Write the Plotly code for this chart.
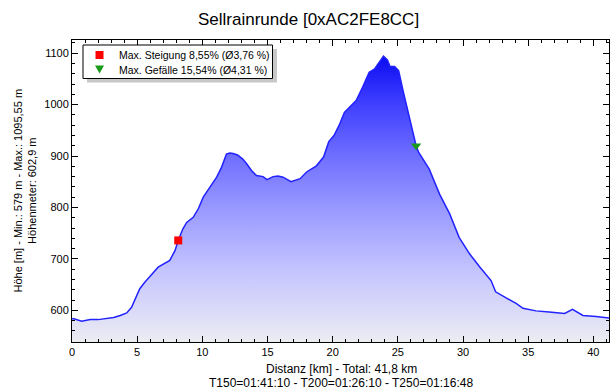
import plotly.graph_objects as go

# ---- data ----
distance_km = [0, 0.1, 0.74, 1.4, 2.0, 2.66, 3.2, 3.7, 4.2, 4.57, 4.9, 5.2, 5.6, 5.98, 6.3,
               6.61, 7.0, 7.5, 7.9, 8.15, 8.5, 8.8, 9.3, 9.7, 10.07, 10.6, 11.1, 11.47,
               11.85, 12.1, 12.36, 12.7, 13.1, 13.4, 13.77, 14.15, 14.66, 14.96, 15.43,
               15.8, 16.2, 16.8, 17.5, 18.0, 18.75, 19.3, 19.7, 20.1, 20.5, 20.9, 21.3,
               21.8, 22.3, 22.8, 23.2, 23.6, 23.9, 24.2, 24.4, 24.75, 25.06, 25.4, 25.9,
               26.3, 26.4, 26.6, 27.0, 27.4, 28.2, 28.97, 29.7, 30.5, 31.3, 32.15, 32.5,
               33.2, 34.1, 34.6, 35.6, 36.6, 37.3, 37.8, 38.4, 38.8, 39.2, 40.2, 41.1, 41.2]
elevation_m = [583, 584, 579, 582, 582, 584, 586, 590, 595, 606, 625, 642, 655, 665, 675,
               684, 690, 697, 716, 736, 758, 771, 781, 798, 820, 840, 859, 878,
               904, 906, 905, 902, 894, 885, 872, 862, 860, 854, 860,
               861, 859, 850, 856, 869, 881, 898, 928, 940, 960, 985, 995,
               1008, 1034, 1063, 1069, 1082, 1094, 1087, 1074, 1074, 1066, 1027, 975,
               930, 920, 907, 892, 875, 826, 788, 742, 710, 684, 658, 636,
               626, 613, 604, 599, 597, 595, 594, 602, 596, 590, 588, 586, 585]

climb_km, climb_elev = [8.15], [736]
descent_km, descent_elev = [26.4], [920]
legend_labels = ["Max. Steigung 8,55% (Ø3,76 %)", "Max. Gefälle 15,54% (Ø4,31 %)"]

title_text = "Sellrainrunde [0xAC2FE8CC]"
y_title = "Höhe [m] - Min.: 579 m - Max.: 1095,55 m<br>Höhenmeter: 602,9 m"
x_title_lines = ["Distanz [km] - Total: 41,8 km",
                 "T150=01:41:10 - T200=01:26:10 - T250=01:16:48"]

x_range = [0, 41.2]
y_range = [538.5, 1125.6]
y_floor = [y_range[0]] * len(distance_km)

FONT = "Liberation Sans, Arial, sans-serif"
RED, GREEN = "#ff0000", "#1a9a1a"

fig = go.Figure()
# baseline for fill
fig.add_trace(go.Scatter(x=distance_km, y=y_floor, mode="lines", line=dict(width=0),
                         showlegend=False, hoverinfo="skip"))
fig.add_trace(go.Scatter(
    x=distance_km, y=elevation_m, mode="lines",
    line=dict(color="#2222ff", width=1.5),
    fill="tonexty",
    fillgradient=dict(type="vertical", start=y_range[0], stop=1096,
                      colorscale=[[0, "#ececf2"], [0.1, "#dcdcf8"], [0.25, "#c4c4ff"],
                                  [0.45, "#9c9cff"], [0.65, "#6e6eff"], [0.85, "#3a3aff"],
                                  [1, "#0a0af0"]]),
    showlegend=False, hoverinfo="skip"))
fig.add_trace(go.Scatter(x=climb_km, y=climb_elev, mode="markers", showlegend=False,
                         marker=dict(symbol="square", color=RED, size=8, line=dict(width=0))))
fig.add_trace(go.Scatter(x=descent_km, y=descent_elev, mode="markers", showlegend=False,
                         marker=dict(symbol="triangle-down", color=GREEN, size=9,
                                     line=dict(width=0))))
# invisible copy on mirror axes so top/right ticks get drawn
fig.add_trace(go.Scatter(x=distance_km, y=elevation_m, xaxis="x2", yaxis="y2",
                         mode="lines", line=dict(width=0, color="rgba(0,0,0,0)"),
                         showlegend=False, hoverinfo="skip"))

L, R, T, B = 72, 7, 40, 50
W, H = 616, 392
pw, ph = W - L - R, H - T - B

def px(x):
    return (x - L) / pw

def py(y):
    return (H - B - y) / ph

# manual legend: shadow, box, symbols, text
fig.add_shape(type="rect", xref="paper", yref="paper",
              x0=px(87), x1=px(277), y0=py(82.5), y1=py(49),
              fillcolor="#c8c8c8", line=dict(width=0), layer="above")
fig.add_shape(type="rect", xref="paper", yref="paper",
              x0=px(83), x1=px(272.5), y0=py(78.5), y1=py(45),
              fillcolor="white", line=dict(color="black", width=1), layer="above")
fig.add_shape(type="rect", xref="paper", yref="paper",
              x0=px(95.5), x1=px(103.5), y0=py(59), y1=py(51),
              fillcolor=RED, line=dict(width=0), layer="above")
fig.add_shape(type="path", xref="paper", yref="paper",
              path=f"M {px(95)} {py(65.5)} L {px(104)} {py(65.5)} L {px(99.5)} {py(73.5)} Z",
              fillcolor=GREEN, line=dict(width=0), layer="above")
for i, lab in enumerate(legend_labels):
    fig.add_annotation(text=lab, xref="paper", yref="paper", x=px(117), y=py(55.5 + 14.5 * i),
                       xanchor="left", yanchor="middle", showarrow=False,
                       font=dict(family=FONT, size=10.5, color="black"))

# x-axis title lines
for i, line in enumerate(x_title_lines):
    fig.add_annotation(text=line, xref="paper", yref="paper", x=px(341), y=py(369 + 14 * i),
                       xanchor="center", yanchor="middle", showarrow=False,
                       font=dict(family=FONT, size=12, color="black"))
# y-axis title (two lines, rotated)
fig.add_annotation(text=y_title, xref="paper", yref="paper", x=px(24.5), y=py(191),
                   xanchor="center", yanchor="middle", textangle=-90, showarrow=False,
                   font=dict(family=FONT, size=11, color="black"))

axis_common = dict(showline=True, linecolor="black", linewidth=1,
                   ticks="inside", ticklen=6, tickcolor="black", showgrid=False,
                   zeroline=False, automargin=False,
                   tickfont=dict(family=FONT, size=11, color="black"))

fig.update_layout(
    width=W, height=H,
    margin=dict(l=L, r=R, t=T, b=B, autoexpand=False),
    paper_bgcolor="white", plot_bgcolor="white",
    title=dict(text=title_text, x=px(341), xanchor="center", y=1 - 19 / H, yanchor="middle",
               font=dict(family=FONT, size=17, color="black"), automargin=False),
    xaxis=dict(range=x_range, dtick=5, tick0=0,
               minor=dict(dtick=1, ticks="inside", ticklen=3, tickcolor="black"),
               **axis_common),
    yaxis=dict(range=y_range, dtick=100, tick0=0,
               minor=dict(dtick=20, ticks="inside", ticklen=3, tickcolor="black"),
               **axis_common),
    xaxis2=dict(range=x_range, dtick=5, tick0=0, overlaying="x", side="top",
                showticklabels=False,
                minor=dict(dtick=1, ticks="inside", ticklen=3, tickcolor="black"),
                **axis_common),
    yaxis2=dict(range=y_range, dtick=100, tick0=0, overlaying="y", side="right",
                showticklabels=False,
                minor=dict(dtick=20, ticks="inside", ticklen=3, tickcolor="black"),
                **axis_common),
    showlegend=False,
)

fig.write_html("out.html", config={"displayModeBar": False},
               post_script="document.body.style.margin='0';")
